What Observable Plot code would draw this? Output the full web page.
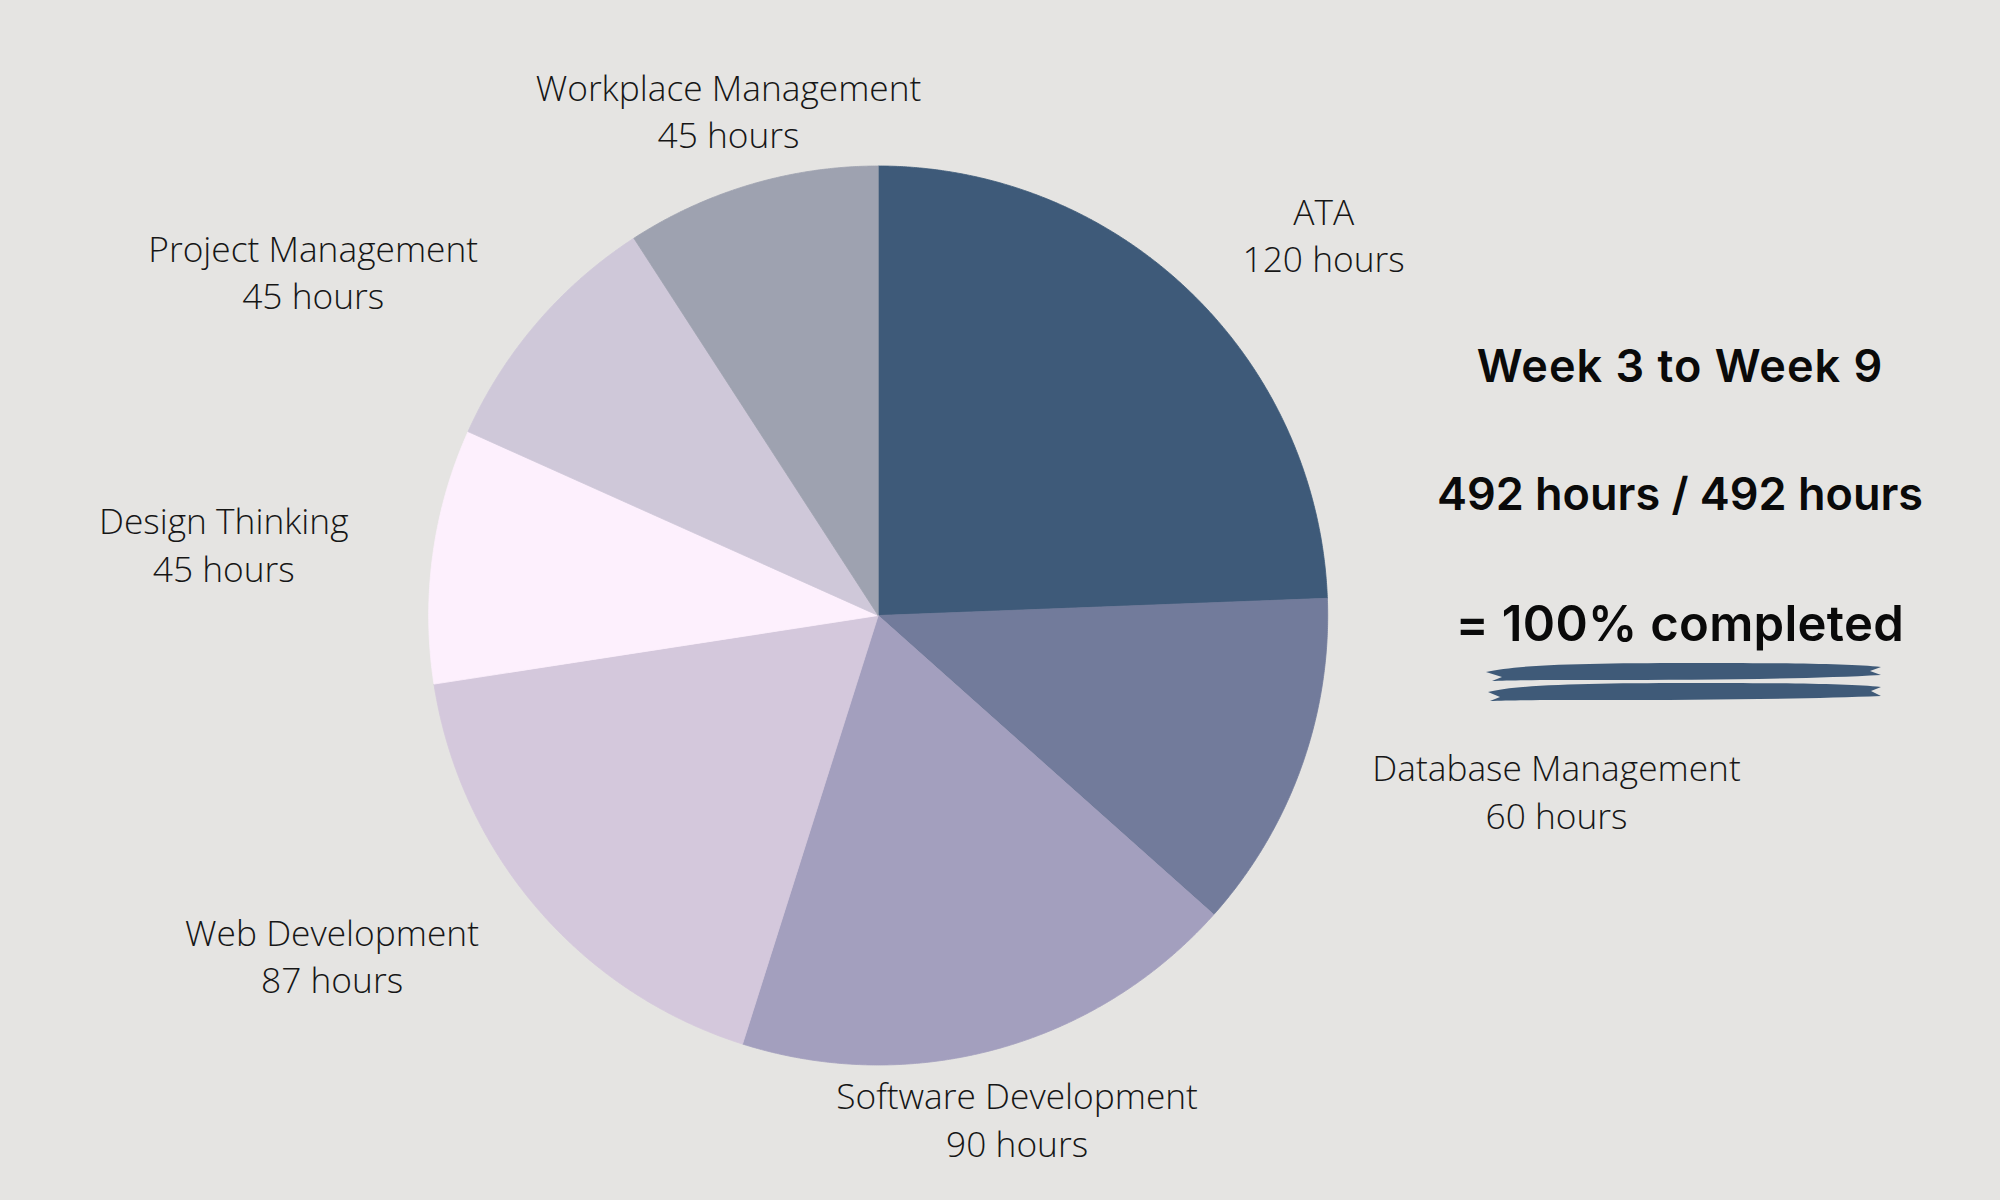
<!DOCTYPE html>
<html>
<head>
<meta charset="utf-8">
<script src="https://cdn.jsdelivr.net/npm/d3@7"></script>
<script src="https://cdn.jsdelivr.net/npm/@observablehq/plot@0.6"></script>
<style>
  html, body { margin: 0; padding: 0; background: #e5e4e2; }
  #page { position: relative; width: 2000px; height: 1200px; background: #e5e4e2; overflow: hidden; }
  #chart { position: absolute; left: 0; top: 0; }
  .big { position: absolute; left: 1380px; width: 600px; text-align: center; font-family: Inter, "Noto Sans", sans-serif; font-weight: 600; color: #0a0a0a; white-space: nowrap; }
  #brush { position: absolute; left: 0; top: 0; }
</style>
</head>
<body>
<div id="page">
  <div id="chart"></div>
  <div class="big" id="t1" style="top:338px; font-size:45px; letter-spacing:1px;">Week 3 to Week 9</div>
  <div class="big" id="t2" style="top:466px; font-size:45px; letter-spacing:0px;">492 hours / 492 hours</div>
  <div class="big" id="t3" style="top:594px; font-size:49px; letter-spacing:0.3px;">= 100% completed</div>
  <svg id="brush" width="2000" height="1200">
    <path d="M1486,672 C1520,664 1600,663 1700,663 C1790,663 1850,664 1881,667 L1870,671 L1881,675 C1810,679 1700,680 1600,680 C1550,680 1510,680 1492,681 L1502,677 Z" fill="#3f5a78"/>
    <path d="M1488,692 C1520,684 1600,683 1700,683 C1790,683 1850,684 1881,687 L1871,691 L1881,696 C1810,699 1700,700 1600,700 C1550,700 1510,700 1490,701 L1500,697 Z" fill="#3f5a78"/>
  </svg>
</div>
<script>
// ---- data ----
const categories = ["ATA", "Database Management", "Software Development", "Web Development", "Design Thinking", "Project Management", "Workplace Management"];
const hours = [120, 60, 90, 87, 45, 45, 45];
const sliceColors = ["#3e5a79", "#727b9b", "#a39fbe", "#d4c8dc", "#fdf0fd", "#cfc8d9", "#9ea2b0"];

// ---- layout (label anchors, in pie-radius units) ----
const labelAnchors = [
  [0.991, 0.850],
  [1.509, -0.387],
  [0.309, -1.117],
  [-1.215, -0.754],
  [-1.456, 0.162],
  [-1.257, 0.768],
  [-0.333, 1.126]
];

const cx = 877.7, cy = 615, R = 449.5, W = 2000, H = 1200;

const arcs = d3.pie().sort(null).value(d => d)(hours);
const poly = [];
arcs.forEach((a, i) => {
  const name = categories[i];
  poly.push({name, x: 0, y: 0});
  const n = Math.max(2, Math.ceil((a.endAngle - a.startAngle) / (Math.PI / 720)));
  for (let k = 0; k <= n; k++) {
    const t = a.startAngle + (a.endAngle - a.startAngle) * k / n;
    poly.push({name, x: Math.sin(t), y: Math.cos(t)});
  }
  poly.push({name, x: 0, y: 0});
});

const labels = categories.map((c, i) => ({
  text: `${c}\n${hours[i]} hours`,
  x: labelAnchors[i][0],
  y: labelAnchors[i][1]
}));

const chart = Plot.plot({
  width: W,
  height: H,
  margin: 0,
  style: {background: "transparent"},
  x: {domain: [-cx / R, (W - cx) / R], axis: null},
  y: {domain: [-(H - cy) / R, cy / R], axis: null},
  color: {domain: categories, range: sliceColors},
  marks: [
    Plot.line(poly, {x: "x", y: "y", z: "name", fill: "name", stroke: "name", strokeWidth: 0.8, curve: "linear"}),
    Plot.text(labels, {x: "x", y: "y", text: "text", fontFamily: "Open Sans", fontWeight: 300, fontSize: 35.3, lineHeight: 1.35, textAnchor: "middle", lineAnchor: "middle", fill: "#161616"})
  ]
});
document.getElementById("chart").appendChild(chart);
</script>
</body>
</html>
